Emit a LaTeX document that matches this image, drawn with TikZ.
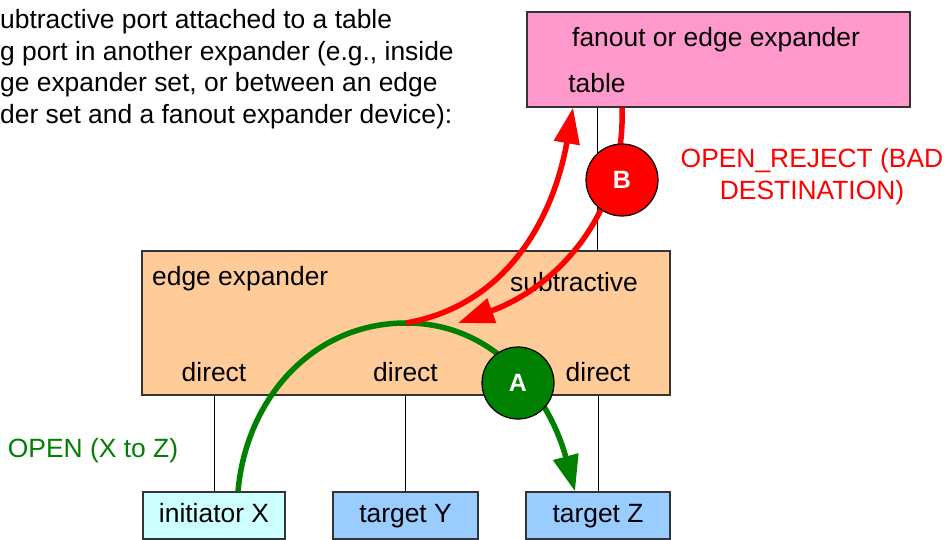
\documentclass[tikz,border=0pt]{standalone}
\usepackage{fontspec}
\setmainfont{Liberation Sans}
\usetikzlibrary{arrows.meta}
\definecolor{pinkbox}{HTML}{FF99CC}
\definecolor{tanbox}{HTML}{FFCC99}
\definecolor{cyanbox}{HTML}{CCFFFF}
\definecolor{bluebox}{HTML}{99CCFF}
\definecolor{okgreen}{HTML}{008000}

\begin{document}
\begin{tikzpicture}[x=1pt,y=1pt,
		every node/.style={font=\fontsize{26.4}{31.7}\selectfont},
		box/.style={draw=black!80,line width=1.2pt,inner sep=0pt,text height=19pt,text depth=5pt},
		port/.style={inner sep=0pt},
		wire/.style={line width=0.9pt},
		flow/.style={line width=5.5pt,-{Triangle[length=36pt,width=25pt]}},
		badge/.style={circle,draw=black,line width=1.2pt,minimum size=72pt,inner sep=0pt,text=white,font=\fontsize{25}{30}\selectfont\bfseries}]
	\useasboundingbox (0,0) rectangle (946,-540);
	\node[port,align=left,anchor=north west] (intro) at (0,-9) {ubtractive port attached to a table\\g port in another expander (e.g., inside\\ge expander set, or between an edge\\der set and a fanout expander device):};
	\node[box,fill=pinkbox,minimum width=383pt,minimum height=95pt] (fan) at (718.5,-59.5) {};
	\node[box,fill=tanbox,minimum width=528pt,minimum height=144pt] (edge) at (406,-323) {};
	\node[box,fill=cyanbox,minimum width=142pt,minimum height=47pt] (ini) at (214,-515.5) {initiator X};
	\node[box,fill=bluebox,minimum width=145pt,minimum height=47pt] (ty) at (405.5,-515.5) {target Y};
	\node[box,fill=bluebox,minimum width=144pt,minimum height=47pt] (tz) at (598,-515.5) {target Z};
	\node[port,anchor=west] (fantxt) at (572,-40) {fanout or edge expander};
	\node[port] (tbl) at (597,-83) {table};
	\node[port,anchor=west] (edgetxt) at (152,-279) {edge expander};
	\node[port,anchor=west] (sub) at (510,-282) {subtractive};
	\node[port] (d1) at (214,-372) {direct};
	\node[port] (d2) at (405.5,-372) {direct};
	\node[port] (d3) at (598,-372) {direct};
	\coordinate (tblport) at (tbl |- fan.south);
	\coordinate (apex) at (406,-323);
	\draw[wire] (tblport) -- (tbl |- edge.north);
	\draw[wire] (ini.north) -- (ini.north |- edge.south);
	\draw[wire] (ty.north) -- (ty.north |- edge.south);
	\draw[wire] (tz.north) -- (tz.north |- edge.south);
	\draw[flow,okgreen] ([xshift=24pt]ini.north) to[out=85,in=180] (apex) to[out=0,in=105] ([xshift=-23pt]tz.north);
	\draw[flow,red] (apex) to[out=10,in=260] ([xshift=-24pt]tblport);
	\draw[flow,red] ([xshift=25pt]tblport) to[out=-88,in=20] ([xshift=52pt]apex);
	\node[badge,fill=okgreen] (A) at (518,-383) {A};
	\node[badge,fill=red] (B) at (622,-180) {B};
	\node[port,okgreen] (openlbl) at (93,-451) {OPEN (X to Z)};
	\node[port,red,align=center] (rejlbl) at (812,-177) {OPEN\_REJECT (BAD\\DESTINATION)};
\end{tikzpicture}
\end{document}
